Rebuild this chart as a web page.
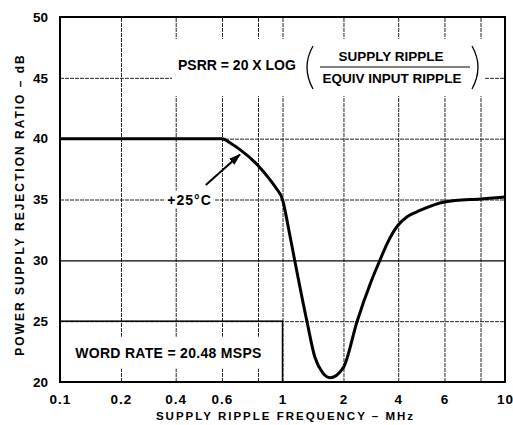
<!DOCTYPE html>
<html>
<head>
<meta charset="utf-8">
<script src="https://cdn.jsdelivr.net/npm/d3@7"></script>
<style>
  body { margin: 0; background: #fff; }
  svg { display: block; font-family: "Liberation Sans", Arial, sans-serif; font-weight: bold; }
</style>
</head>
<body>
<div id="chart"></div>
<script>
// PSRR curve (+25°C)
const freqMHz = [0.1, 0.2, 0.4, 0.6, 0.65, 0.7, 0.8, 0.9, 0.95, 1.0, 1.1, 1.2, 1.4, 1.53, 1.66, 1.78, 2.0, 2.5, 3.0, 3.33, 3.6, 4.0, 4.4, 4.94, 6.0, 8.0, 10];
const psrrDb = [40, 40, 40, 40, 39.6, 39.1, 37.8, 36.6, 35.9, 35, 32.6, 30, 25, 22.05, 20.75, 20.35, 21.2, 25, 28.2, 30, 31.4, 32.9, 33.6, 34.1, 34.8, 35.05, 35.2];

const xTicks = [0.1, 0.2, 0.4, 0.6, 1, 2, 4, 6, 10];
const xTickLabels = ['0.1', '0.2', '0.4', '0.6', '1', '2', '4', '6', '10'];
const xGrid = [0.1, 0.2, 0.4, 0.6, 0.8, 1, 2, 4, 6, 8, 10];
const yTicks = [20, 25, 30, 35, 40, 45, 50];

// arrow from the "+25°C" label up to the curve
const arrowFreq = [0.53, 0.70];
const arrowDb = [36.2, 38.7];

// corner box around the word rate note (MHz, dB)
const boxFreq = [0.1, 1];
const boxDb = [20, 25];

const width = 513;
const height = 425;
const margin = { top: 17, right: 8, bottom: 43, left: 60 };
const plotW = width - margin.left - margin.right;
const plotH = height - margin.top - margin.bottom;

const svg = d3
  .select('#chart')
  .append('svg')
  .attr('width', width)
  .attr('height', height);

// the printed log paper is not a true log inside each decade,
// so the mantissa goes through its own scale first
const mantissa = d3
  .scaleLinear()
  .domain([1, 2, 4, 6, 8, 10])
  .range([0, 0.274, 0.52, 0.728, 0.89, 1]);
const decades = d3
  .scaleLinear()
  .domain([-1, 1])
  .range([margin.left, width - margin.right]);
const toDecade = (f) => {
  const e = Math.floor(Math.log10(f) + 1e-9);
  return e + mantissa(f / Math.pow(10, e));
};
const x = (f) => decades(toDecade(f));

const y = d3
  .scaleLinear()
  .domain([20, 50])
  .range([height - margin.bottom, margin.top]);

// grid, vertical
svg
  .append('g')
  .attr('class', 'xgrid')
  .attr('transform', `translate(0, ${height - margin.bottom})`)
  .call(
    d3
      .axisBottom(decades)
      .tickValues(xGrid.map(toDecade))
      .tickSize(-plotH)
      .tickFormat(''),
  )
  .call((g) => g.select('.domain').remove());

// grid, horizontal + y labels
svg
  .append('g')
  .attr('class', 'ygrid')
  .attr('transform', `translate(${margin.left}, 0)`)
  .call(
    d3
      .axisLeft(y)
      .tickValues(yTicks)
      .tickSize(-plotW)
      .tickPadding(12),
  )
  .call((g) => g.select('.domain').remove())
  .call((g) =>
    g
      .selectAll('.tick text')
      .style('font-size', '13.5px')
      .style('font-family', '"Liberation Sans", Arial, sans-serif')
      .style('font-weight', 'bold')
      .attr('fill', '#000'),
  );

svg
  .selectAll('.xgrid .tick line, .ygrid .tick line')
  .attr('stroke', '#222')
  .attr('stroke-width', 1)
  .attr('stroke-dasharray', '4 1');

// the 30 dB line prints darker on the original
svg
  .selectAll('.ygrid .tick')
  .filter((d) => d === 30)
  .select('line')
  .attr('stroke', '#000')
  .attr('stroke-width', 1.4)
  .attr('stroke-dasharray', null);

// x labels
svg
  .append('g')
  .attr('class', 'xaxis')
  .attr('transform', `translate(0, ${height - margin.bottom})`)
  .call(
    d3
      .axisBottom(decades)
      .tickValues(xTicks.map(toDecade))
      .tickSize(0)
      .tickPadding(12)
      .tickFormat((d, i) => xTickLabels[i]),
  )
  .call((g) => g.select('.domain').remove())
  .call((g) =>
    g
      .selectAll('.tick text')
      .style('font-size', '13.5px')
      .style('font-family', '"Liberation Sans", Arial, sans-serif')
      .style('font-weight', 'bold')
      .style('letter-spacing', '1px')
      .attr('fill', '#000'),
  );

// white patches behind the annotations, like the printed chart
const masks = svg.append('g').attr('class', 'masks');

svg
  .append('rect')
  .attr('x', x(boxFreq[0]))
  .attr('y', y(boxDb[1]))
  .attr('width', x(boxFreq[1]) - x(boxFreq[0]))
  .attr('height', y(boxDb[0]) - y(boxDb[1]))
  .attr('fill', 'none')
  .attr('stroke', '#000')
  .attr('stroke-width', 1.5);

const notes = svg.append('g').attr('class', 'notes');

// formula
const formula = notes.append('g');
formula
  .append('text')
  .attr('x', 178)
  .attr('y', 70)
  .style('font-size', '14px')
  .text('PSRR = 20 X LOG');
formula
  .append('text')
  .attr('x', 391)
  .attr('y', 61)
  .attr('text-anchor', 'middle')
  .style('font-size', '13.5px')
  .text('SUPPLY RIPPLE');
formula
  .append('line')
  .attr('x1', 320)
  .attr('x2', 470)
  .attr('y1', 67)
  .attr('y2', 67)
  .attr('stroke', '#000')
  .attr('stroke-width', 1.2);
formula
  .append('text')
  .attr('x', 392)
  .attr('y', 83)
  .attr('text-anchor', 'middle')
  .style('font-size', '13.5px')
  .text('EQUIV INPUT RIPPLE');
formula
  .append('path')
  .attr('d', 'M313,46 Q301,67 313,89')
  .attr('fill', 'none')
  .attr('stroke', '#000')
  .attr('stroke-width', 1.3);
formula
  .append('path')
  .attr('d', 'M472,46 Q484,67 472,89')
  .attr('fill', 'none')
  .attr('stroke', '#000')
  .attr('stroke-width', 1.3);

const wordRate = notes
  .append('text')
  .attr('x', x(0.125))
  .attr('y', y(22))
  .style('font-size', '14px')
  .style('letter-spacing', '0.3px')
  .text('WORD RATE = 20.48 MSPS');

const tempLabel = notes
  .append('text')
  .attr('x', x(0.46))
  .attr('y', y(35) + 5)
  .attr('text-anchor', 'middle')
  .style('font-size', '14px')
  .style('letter-spacing', '1px')
  .text('+25°C');

const addMask = (node, padX, padY) => {
  const b = node.getBBox();
  masks
    .append('rect')
    .attr('x', b.x - padX)
    .attr('y', b.y - padY)
    .attr('width', b.width + padX * 2)
    .attr('height', b.height + padY * 2)
    .attr('fill', '#fff');
};
addMask(formula.node(), 6, 7);
addMask(wordRate.node(), 5, 8);
addMask(tempLabel.node(), 2, 1);

// curve
const line = d3
  .line()
  .x((d, i) => x(freqMHz[i]))
  .y((d) => y(d))
  .curve(d3.curveMonotoneX);

svg
  .append('path')
  .datum(psrrDb)
  .attr('fill', 'none')
  .attr('stroke', '#000')
  .attr('stroke-width', 3)
  .attr('stroke-linejoin', 'round')
  .attr('d', line);

// arrow
svg
  .append('defs')
  .append('marker')
  .attr('id', 'arrow')
  .attr('markerUnits', 'userSpaceOnUse')
  .attr('markerWidth', 12)
  .attr('markerHeight', 10)
  .attr('refX', 11)
  .attr('refY', 4)
  .attr('orient', 'auto')
  .append('path')
  .attr('d', 'M0,0 L12,4 L0,8 Z')
  .attr('fill', '#000');

svg
  .append('line')
  .attr('x1', x(arrowFreq[0]))
  .attr('y1', y(arrowDb[0]))
  .attr('x2', x(arrowFreq[1]))
  .attr('y2', y(arrowDb[1]))
  .attr('stroke', '#000')
  .attr('stroke-width', 2)
  .attr('marker-end', 'url(#arrow)');

// frame
svg
  .append('rect')
  .attr('x', margin.left)
  .attr('y', margin.top)
  .attr('width', plotW)
  .attr('height', plotH)
  .attr('fill', 'none')
  .attr('stroke', '#000')
  .attr('stroke-width', 2);

// axis titles
svg
  .append('text')
  .attr('x', (margin.left + width - margin.right) / 2 + 3)
  .attr('y', 420)
  .attr('text-anchor', 'middle')
  .style('font-size', '11.5px')
  .style('letter-spacing', '2px')
  .text('SUPPLY RIPPLE FREQUENCY – MHz');

svg
  .append('text')
  .attr('transform', `translate(24, ${(52 + 357) / 2}) rotate(-90)`)
  .attr('text-anchor', 'middle')
  .style('font-size', '12px')
  .style('letter-spacing', '2px')
  .text('POWER SUPPLY REJECTION RATIO – dB');
</script>
</body>
</html>
